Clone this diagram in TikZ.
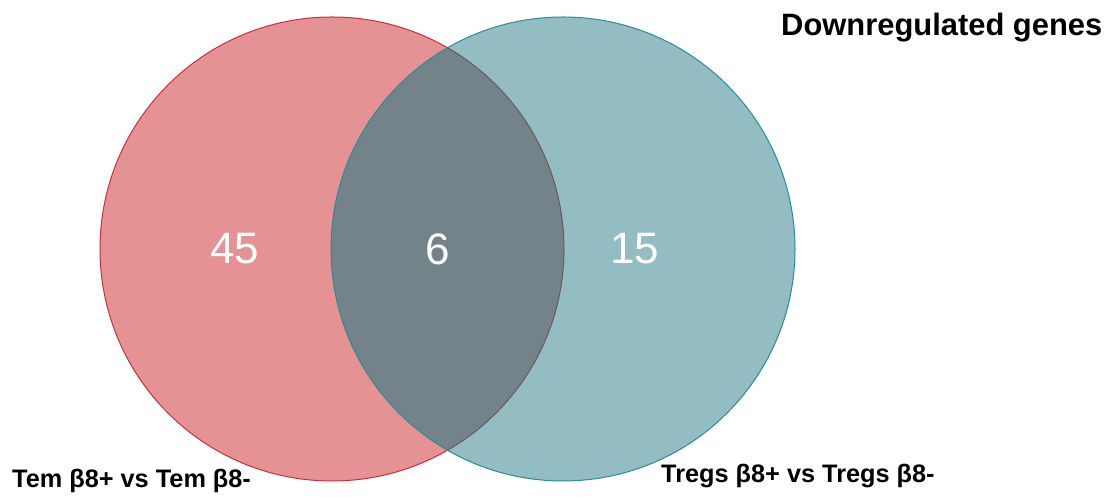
\documentclass[tikz,border=0pt]{standalone}
\usepackage{fontspec}
\setmainfont{Liberation Sans}
\definecolor{temfill}{HTML}{E59294}
\definecolor{temline}{HTML}{CC2F3C}
\definecolor{tregfill}{HTML}{93BCC3}
\definecolor{tregline}{HTML}{2A8C96}
\definecolor{bothfill}{HTML}{738389}
\definecolor{temlinedark}{HTML}{6A5866}
\tikzset{
  count/.style={text=white, inner sep=0pt, font=\fontsize{44}{44}\selectfont},
  setlabel/.style={inner sep=0pt, anchor=base west, font=\fontsize{25.3}{25.3}\selectfont\bfseries},
  titlelabel/.style={inner sep=0pt, anchor=base west, font=\fontsize{30.9}{30.9}\selectfont\bfseries},
}
\begin{document}
\begin{tikzpicture}[x=1pt,y=1pt]
  \useasboundingbox (0,0) rectangle (1117,497);
  \def\R{232}
  \coordinate (cl) at (332,248);
  \coordinate (cr) at (563,248);
  % set areas
  \fill[temfill] (cl) circle (\R);
  \fill[tregfill] (cr) circle (\R);
  \begin{scope}
    \clip (cl) circle (\R);
    \fill[bothfill] (cr) circle (\R);
  \end{scope}
  % outlines
  \begin{scope}
    \begin{scope}[even odd rule]
      \clip (cr) circle (\R) (0,0) rectangle (1117,497);
      \draw[temline, line width=1pt] (cl) circle (\R);
    \end{scope}
    \clip (cr) circle (\R);
    \draw[temlinedark, line width=1pt] (cl) circle (\R);
  \end{scope}
  \draw[tregline, line width=1pt] (cr) circle (\R);
  % counts
  \node[count] (nleft) at (235,248) {45};
  \node[count] (nboth) at (438,248) {6};
  \node[count] (nright) at (634.5,248) {15};
  % labels
  \node[setlabel] (lleft) at (12,9) {Tem β8+ vs Tem β8-};
  \node[setlabel] (lright) at (661,14.7) {Tregs β8+ vs Tregs β8-};
  \node[titlelabel] (title) at (781,461) {Downregulated genes};
\end{tikzpicture}
\end{document}
